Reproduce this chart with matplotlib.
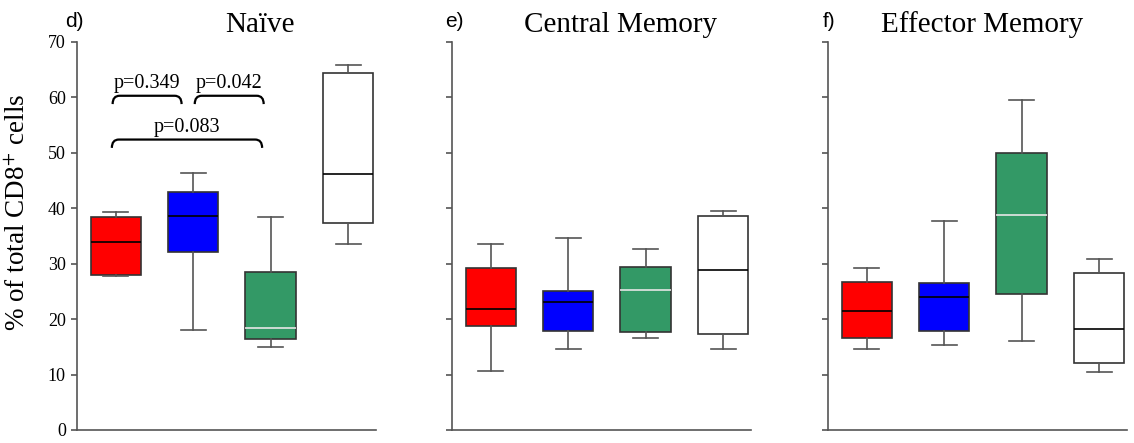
import matplotlib
matplotlib.use("Agg")
import matplotlib.pyplot as plt
from matplotlib.path import Path
from matplotlib.patches import PathPatch

plt.rcParams['font.family'] = ['Liberation Serif', 'DejaVu Serif']
plt.rcParams['mathtext.fontset'] = 'stix'

panels = ["Naïve", "Central Memory", "Effector Memory"]
letters = ["d)", "e)", "f)"]
colors = ["#ff0000", "#0000ff", "#339966", "#ffffff"]
median_colors = ["black", "black", "#e6e6e6", "black"]

# whisker low, q1, median, q3, whisker high (% of CD8+)
naive_low = [27.8, 18.0, 14.9, 33.6]
naive_q1 = [28.0, 32.1, 16.4, 37.4]
naive_med = [33.9, 38.6, 18.4, 46.2]
naive_q3 = [38.5, 43.0, 28.5, 64.4]
naive_high = [39.3, 46.3, 38.5, 65.9]

cm_low = [10.7, 14.6, 16.6, 14.7]
cm_q1 = [18.7, 17.9, 17.7, 17.3]
cm_med = [21.9, 23.1, 25.2, 28.8]
cm_q3 = [29.2, 25.0, 29.4, 38.6]
cm_high = [33.5, 34.7, 32.7, 39.5]

em_low = [14.6, 15.4, 16.1, 10.4]
em_q1 = [16.6, 17.8, 24.6, 12.0]
em_med = [21.4, 24.0, 38.7, 18.2]
em_q3 = [26.7, 26.6, 50.0, 28.3]
em_high = [29.3, 37.7, 59.5, 30.9]

# p-value brackets on the Naïve panel: (x start, x end, height, label)
p_labels = ["p=0.349", "p=0.042", "p=0.083"]
p_x0 = [0.96, 2.02, 0.95]
p_x1 = [1.85, 2.91, 2.89]
p_y = [60.3, 60.3, 52.4]

data = [
    (naive_low, naive_q1, naive_med, naive_q3, naive_high),
    (cm_low, cm_q1, cm_med, cm_q3, cm_high),
    (em_low, em_q1, em_med, em_q3, em_high),
]

fig = plt.figure(figsize=(11.34, 4.43), dpi=100)
lefts = [77, 452, 828]
axes = []
for i, left in enumerate(lefts):
    ax = fig.add_axes([left / 1134, 1 - 430 / 443, 299 / 1134, 388 / 443])
    axes.append(ax)
    lo, q1, med, q3, hi = data[i]
    for j in range(4):
        st = [dict(whislo=lo[j], q1=q1[j], med=med[j], q3=q3[j], whishi=hi[j])]
        ax.bxp(st, positions=[j + 1], widths=0.65, patch_artist=True,
               showfliers=False, capwidths=0.32,
               boxprops=dict(facecolor=colors[j], edgecolor='#333333', linewidth=1.2),
               medianprops=dict(color=median_colors[j], linewidth=1.2),
               whiskerprops=dict(color='#555555', linewidth=1.2),
               capprops=dict(color='#555555', linewidth=1.2))
    ax.set_xlim(0.5, 4.36)
    ax.set_ylim(0, 70)
    ax.set_yticks(range(0, 71, 10))
    ax.set_xticks([])
    for s in ['top', 'right']:
        ax.spines[s].set_visible(False)
    for s in ['left', 'bottom']:
        ax.spines[s].set_color('#555555')
        ax.spines[s].set_linewidth(1.2)
    ax.tick_params(axis='y', length=4, width=1.2, color='#555555',
                   labelsize=13, pad=4)
    if i > 0:
        ax.set_yticklabels([])

ax = axes[0]
for x0, x1, y, lab in zip(p_x0, p_x1, p_y, p_labels):
    dx = 0.09
    dy = 1.5
    verts = [(x0, y - dy), (x0, y), (x0 + dx, y), (x1 - dx, y),
             (x1, y), (x1, y - dy)]
    codes = [Path.MOVETO, Path.CURVE3, Path.CURVE3, Path.LINETO,
             Path.CURVE3, Path.CURVE3]
    ax.add_patch(PathPatch(Path(verts, codes), facecolor='none',
                           edgecolor='black', linewidth=1.6))
    ax.text((x0 + x1) / 2, y + 1.4, lab, ha='center', va='baseline', fontsize=14.5)

title_x = [260, 621, 982]
for tx, t in zip(title_x, panels):
    fig.text(tx / 1134, 1 - 32 / 443, t, ha='center', va='baseline', fontsize=21)

letter_x = [65, 445, 823]
for lx, l in zip(letter_x, letters):
    fig.text(lx / 1134, 1 - 27 / 443, l, ha='left', va='baseline', fontsize=15,
             family=['Liberation Sans', 'DejaVu Sans'])

fig.text(18 / 1134, 1 - 212 / 443, r'% of total CD8$^{+}$ cells', rotation=90,
         ha='center', va='center', fontsize=19.5)

fig.savefig("out.png", dpi=100)
